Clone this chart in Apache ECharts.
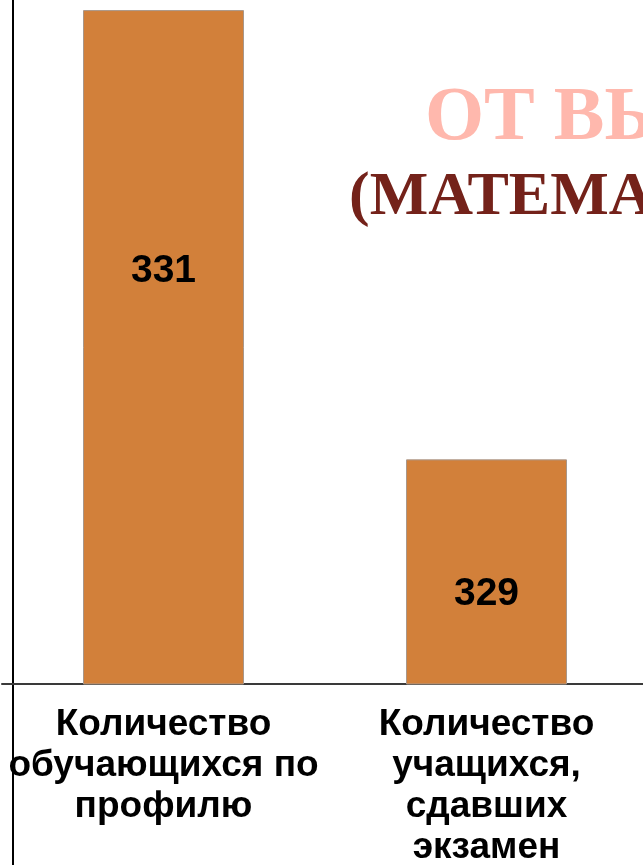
<!DOCTYPE html>
<html>
<head>
<meta charset="utf-8">
<script src="https://cdn.jsdelivr.net/npm/echarts@6/dist/echarts.min.js"></script>
<style>
  html, body { margin: 0; padding: 0; background: #fff; overflow: hidden; }
  #chart { width: 660px; height: 865px; }
</style>
</head>
<body>
<div id="chart"></div>
<script>
const categories = [
  'Количество\nобучающихся по\nпрофилю',
  'Количество\nучащихся,\nсдавших\nэкзамен',
];
const values = [331, 329];
const titleLines = ['ОТ ВЫБОРА', '(МАТЕМАТИКА)'];

const chart = echarts.init(document.getElementById('chart'));

// label positions inside the bars differ per bar in the source picture
const labelShift = [-76, 22];

chart.setOption({
  animation: false,
  grid: { left: 2, width: 646, top: 0, bottom: 181, outerBoundsMode: 'none' },
  xAxis: {
    type: 'category',
    data: categories,
    axisLine: { lineStyle: { color: '#3a3a3a', width: 2 } },
    axisTick: { show: false },
    axisLabel: {
      interval: 0,
      margin: 20,
      color: '#000',
      fontFamily: 'Liberation Sans',
      fontWeight: 'bold',
      fontSize: 37,
      lineHeight: 41,
    },
  },
  yAxis: {
    type: 'value',
    min: 328,
    max: 331.045,
    offset: -11,
    axisLine: { show: true, lineStyle: { color: '#000', width: 2 } },
    axisTick: { show: false },
    axisLabel: { show: false },
    splitLine: { show: false },
  },
  series: [
    {
      type: 'bar',
      barWidth: 161,
      data: values.map((v, i) => ({
        value: v,
        label: { offset: [0, labelShift[i]] },
      })),
      itemStyle: { color: '#D2803A', borderColor: '#a8978a', borderWidth: 1 },
      label: {
        show: true,
        position: 'inside',
        color: '#000',
        fontFamily: 'Liberation Sans',
        fontWeight: 'bold',
        fontSize: 39,
      },
    },
  ],
  graphic: [
    {
      type: 'line',
      shape: { x1: 13, y1: 684, x2: 13, y2: 865 },
      style: { stroke: '#000', lineWidth: 2 },
    },
    {
      type: 'text',
      x: 425,
      y: 119,
      style: {
        text: titleLines[0],
        fill: '#FFB8AD',
        font: 'bold 76px "Liberation Serif"',
        verticalAlign: 'middle',
      },
    },
    {
      type: 'text',
      x: 349,
      y: 198,
      style: {
        text: titleLines[1],
        fill: '#74221A',
        font: 'bold 62px "Liberation Serif"',
        verticalAlign: 'middle',
      },
    },
  ],
});
</script>
</body>
</html>
